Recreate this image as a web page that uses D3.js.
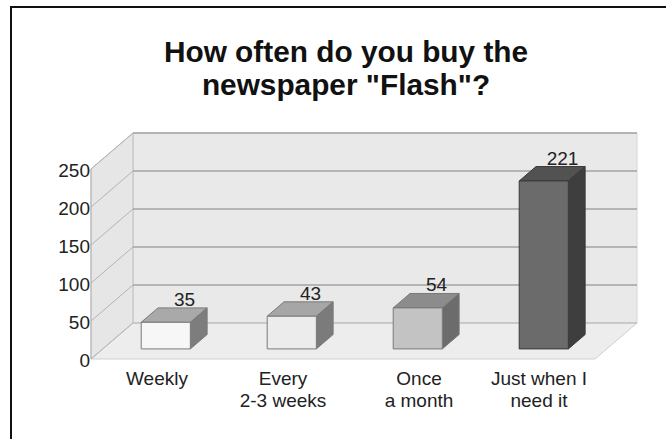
<!DOCTYPE html>
<html>
<head>
<meta charset="utf-8">
<script src="https://cdn.jsdelivr.net/npm/d3@7"></script>
<style>
  html, body { margin: 0; padding: 0; background: #fff; }
  svg { display: block; }
  text { font-family: "Liberation Sans", Arial, sans-serif; }
</style>
</head>
<body>
<svg id="chart" width="666" height="439"></svg>
<script>
// ---- data ----
const titleLines = ["How often do you buy the", "newspaper \"Flash\"?"];
const categories = ["Weekly", "Every\n2-3 weeks", "Once\na month", "Just when I\nneed it"];
const values = [35, 43, 54, 221];
const yTicks = [0, 50, 100, 150, 200, 250];
const frontColors = ["#f7f7f7", "#ececec", "#c3c3c3", "#6b6b6b"];
const topColors = ["#a9a9a9", "#a6a6a6", "#8c8c8c", "#525252"];
const sideColors = ["#7d7d7d", "#7b7b7b", "#6c6c6c", "#3e3e3e"];

// ---- layout ----
const svg = d3.select("#chart");
const depthX = 42, depthY = -36;           // full floor depth vector
const barF0 = 0.28, barF1 = 0.68;          // bar depth range (fractions)

const x = d3.scaleBand().domain(categories).range([91, 595]).paddingInner(0).paddingOuter(0);
const y = d3.scaleLinear().domain([0, 250]).range([359, 169]);
const P = (px, v, f) => [px + f * depthX, y(v) + f * depthY];
const poly = pts => "M" + pts.map(p => p.join(",")).join("L") + "Z";

// outer frame
svg.append("rect").attr("x", 11).attr("y", 7).attr("width", 720).attr("height", 500)
  .attr("fill", "none").attr("stroke", "#111").attr("stroke-width", 2);

// title
svg.append("g").selectAll("text").data(titleLines).join("text")
  .attr("x", 346).attr("y", (d, i) => 62 + i * 33)
  .attr("text-anchor", "middle").attr("font-size", 29.8).attr("font-weight", "bold")
  .attr("fill", "#111").text(d => d);

const xL = x.range()[0], xR = x.range()[1];
const vMax = y.domain()[1];

// back wall
svg.append("path").attr("d", poly([P(xL, 0, 1), P(xR, 0, 1), P(xR, vMax, 1), P(xL, vMax, 1)]))
  .attr("fill", "#e9e9e9").attr("stroke", "#d6d6d6").attr("stroke-width", 1);
// left wall
svg.append("path").attr("d", poly([P(xL, 0, 0), P(xL, 0, 1), P(xL, vMax, 1), P(xL, vMax, 0)]))
  .attr("fill", "#e6e6e6").attr("stroke", "#bdbdbd").attr("stroke-width", 1);
// floor
svg.append("path").attr("d", poly([P(xL, 0, 0), P(xR, 0, 0), P(xR, 0, 1), P(xL, 0, 1)]))
  .attr("fill", "#ededed").attr("stroke", "#cfcfcf").attr("stroke-width", 1);

// gridlines
const grid = svg.append("g");
yTicks.forEach(t => {
  const a = P(xL, t, 0), b = P(xL, t, 1), c = P(xR, t, 1);
  grid.append("line").attr("x1", a[0]).attr("y1", a[1]).attr("x2", b[0]).attr("y2", b[1])
    .attr("stroke", "#b3b3b3").attr("stroke-width", 1);
  grid.append("line").attr("x1", b[0]).attr("y1", b[1]).attr("x2", c[0]).attr("y2", c[1])
    .attr("stroke", t > 0 ? "#a3a3a3" : "#b8b8b8").attr("stroke-width", t > 0 ? 1.7 : 1.2);
});
// front vertical edge of left wall
grid.append("line").attr("x1", xL).attr("y1", y(0)).attr("x2", xL).attr("y2", y(vMax))
  .attr("stroke", "#b8b8b8").attr("stroke-width", 1);

// y tick labels
svg.append("g").selectAll("text").data(yTicks).join("text")
  .attr("x", 90).attr("y", d => y(d) + 1).attr("dominant-baseline", "central")
  .attr("text-anchor", "end").attr("font-size", 19).attr("fill", "#222").text(d => d);

// bars
const bw = x.bandwidth() * 0.39;
const bars = svg.append("g");
categories.forEach((c, i) => {
  const x0 = x(c) + (x.bandwidth() - bw) / 2, x1 = x0 + bw, v = values[i];
  const stroke = i === 3 ? "#3a3a3a" : "#7a7a7a";
  bars.append("path").attr("d", poly([P(x0, v, barF0), P(x1, v, barF0), P(x1, v, barF1), P(x0, v, barF1)]))
    .attr("fill", topColors[i]).attr("stroke", stroke).attr("stroke-width", 1);
  bars.append("path").attr("d", poly([P(x1, 0, barF0), P(x1, 0, barF1), P(x1, v, barF1), P(x1, v, barF0)]))
    .attr("fill", sideColors[i]).attr("stroke", stroke).attr("stroke-width", 1);
  bars.append("path").attr("d", poly([P(x0, 0, barF0), P(x1, 0, barF0), P(x1, v, barF0), P(x0, v, barF0)]))
    .attr("fill", frontColors[i]).attr("stroke", stroke).attr("stroke-width", 1);
  const lp = P((x0 + x1) / 2, v, barF1);
  bars.append("text").attr("x", lp[0] + 2).attr("y", lp[1] - 2)
    .attr("text-anchor", "middle").attr("font-size", 19).attr("fill", "#222").text(v);
});

// category labels
const labelOffsets = [3, 3, 13, 7];
const cat = svg.append("g");
categories.forEach((c, i) => {
  const t = cat.append("text").attr("text-anchor", "middle").attr("font-size", 19).attr("fill", "#222");
  c.split("\n").forEach((line, j) => {
    t.append("tspan").attr("x", x(c) + x.bandwidth() / 2 + labelOffsets[i]).attr("y", 385 + j * 22).text(line);
  });
});
</script>
</body>
</html>
